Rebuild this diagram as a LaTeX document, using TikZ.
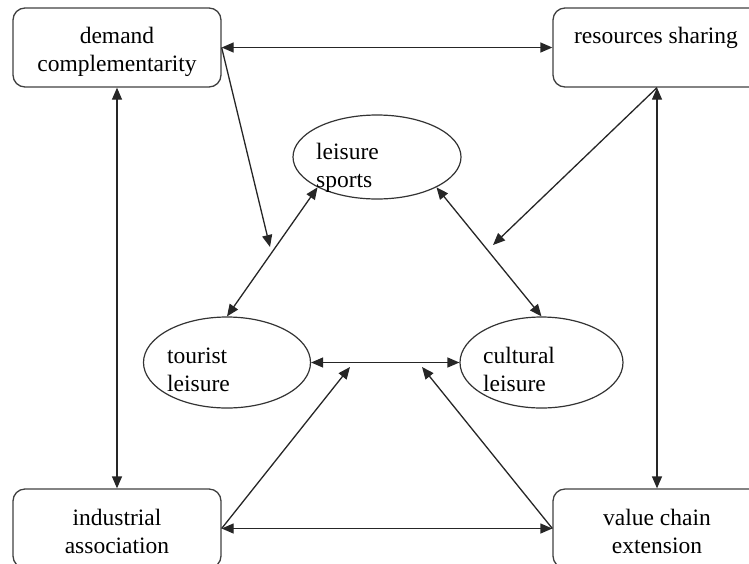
\documentclass[tikz,border=0pt]{standalone}
\usepackage{fontspec}
\setmainfont{Liberation Serif}
\usetikzlibrary{arrows.meta,shapes.geometric}
\begin{document}
\begin{tikzpicture}[x=1pt,y=-1pt,
  >={Triangle[length=12pt,width=10pt]},
  conn/.style={line width=1.3pt, draw=black!85},
  box/.style={draw=black!75, line width=1.3pt, rounded corners=12pt, minimum width=208pt, minimum height=79pt, inner sep=0pt},
  oval/.style={draw=black!80, line width=1.2pt, ellipse, inner sep=0pt},
  lbl/.style={inner sep=0pt, font=\fontsize{23.5}{28}\selectfont}
]
\useasboundingbox (0,0) rectangle (749,563);
\begin{scope}
\clip (0,0) rectangle (749,563);
% boxes
\node[box] (dc) at (117,47.5) {};
\node[box] (rs) at (657,47.5) {};
\node[box] (ia) at (117,528.5) {};
\node[box] (vc) at (657,528.5) {};
% ellipses
\node[oval, minimum width=168pt, minimum height=84pt] (ls) at (377,157) {};
\node[oval, minimum width=167pt, minimum height=91pt] (tl) at (227,362.5) {};
\node[oval, minimum width=163pt, minimum height=91pt] (cl) at (541.5,362.5) {};
% labels
\node[lbl, anchor=base] (tdc) at (117,43) {\begin{tabular}[t]{@{}c@{}}demand\\complementarity\end{tabular}};
\node[lbl, anchor=base] (trs) at (656,43) {resources sharing};
\node[lbl, anchor=base] (tia) at (117,525) {\begin{tabular}[t]{@{}c@{}}industrial\\association\end{tabular}};
\node[lbl, anchor=base] (tvc) at (657,525) {\begin{tabular}[t]{@{}c@{}}value chain\\extension\end{tabular}};
\node[lbl, anchor=base west] (tls) at (316,159) {\begin{tabular}[t]{@{}l@{}}leisure\\sports\end{tabular}};
\node[lbl, anchor=base west] (ttl) at (167,363) {\begin{tabular}[t]{@{}l@{}}tourist\\leisure\end{tabular}};
\node[lbl, anchor=base west] (tcl) at (483,363) {\begin{tabular}[t]{@{}l@{}}cultural\\leisure\end{tabular}};
% free ends
\coordinate (p1) at (270,247);
\coordinate (p2) at (493,245);
\coordinate (p3) at (350,367);
\coordinate (p4) at (422,367);
% connectors
\draw[conn,<->] (dc.east) -- (rs.west);
\draw[conn,<->] (dc.south) -- (ia.north);
\draw[conn,<->] (rs.south) -- (vc.north);
\draw[conn,<->] (ia.east) -- (vc.west);
\draw[conn,->] (dc.east) -- (p1);
\draw[conn,->] (rs.south) -- (p2);
\draw[conn,->] (ia.east) -- (p3);
\draw[conn,->] (vc.west) -- (p4);
\draw[conn,<->] (ls.207) -- (tl.north);
\draw[conn,<->] (ls.333) -- (cl.north);
\draw[conn,<->] (tl.east) -- (cl.west);
\end{scope}
\end{tikzpicture}
\end{document}
